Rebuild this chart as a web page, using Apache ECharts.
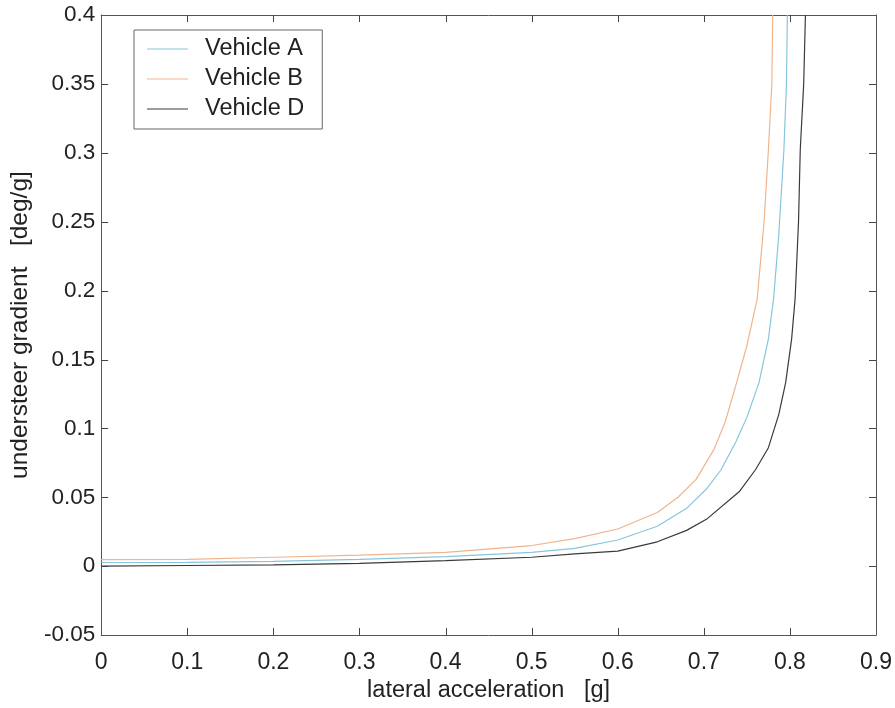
<!DOCTYPE html>
<html>
<head>
<meta charset="utf-8">
<script src="https://cdn.jsdelivr.net/npm/echarts@6/dist/echarts.min.js"></script>
<style>
  html, body { margin: 0; padding: 0; background: #fff; }
  #chart { width: 895px; height: 708px; }
</style>
</head>
<body>
<div id="chart"></div>
<script>
// understeer gradient vs lateral acceleration, three vehicles

const seriesNames = ["Vehicle A", "Vehicle B", "Vehicle D"];

// Vehicle A (blue)
const accelA = [0, 0.1, 0.2, 0.3, 0.4, 0.5, 0.55, 0.6, 0.646, 0.68, 0.703, 0.72, 0.737, 0.75, 0.764, 0.775, 0.781, 0.787, 0.793, 0.796, 0.797];
const gradA  = [0.0027, 0.0028, 0.0035, 0.005, 0.007, 0.010, 0.013, 0.019, 0.029, 0.042, 0.056, 0.070, 0.090, 0.108, 0.133, 0.165, 0.194, 0.24, 0.302, 0.35, 0.4];

// Vehicle B (orange)
const accelB = [0, 0.1, 0.2, 0.3, 0.4, 0.5, 0.55, 0.6, 0.646, 0.67, 0.691, 0.712, 0.725, 0.738, 0.75, 0.762, 0.77, 0.775, 0.779, 0.78];
const gradB  = [0.0047, 0.005, 0.0065, 0.008, 0.010, 0.015, 0.020, 0.027, 0.039, 0.05, 0.063, 0.085, 0.105, 0.133, 0.16, 0.194, 0.25, 0.302, 0.35, 0.4];

// Vehicle D (black)
const accelD = [0, 0.1, 0.2, 0.3, 0.4, 0.5, 0.55, 0.6, 0.646, 0.68, 0.703, 0.741, 0.76, 0.775, 0.787, 0.795, 0.802, 0.806, 0.81, 0.812, 0.816, 0.818];
const gradD  = [0.0, 0.0005, 0.001, 0.002, 0.004, 0.0065, 0.009, 0.011, 0.0177, 0.026, 0.034, 0.054, 0.07, 0.086, 0.11, 0.133, 0.165, 0.194, 0.25, 0.302, 0.35, 0.4];

// tick values (inward ticks on all four sides, MATLAB style)
const xTicks = [0.1, 0.2, 0.3, 0.4, 0.5, 0.6, 0.7, 0.8];
const yTicks = [0, 0.05, 0.1, 0.15, 0.2, 0.25, 0.3, 0.35];

const lineColors = ["#86c6dc", "#f0b48c", "#3a3a3a"];

const xMin = 0, xMax = 0.9, xStep = 0.1;
const yMin = -0.05, yMax = 0.4, yStep = 0.05;

const zip = (xs, ys) => xs.map((x, i) => [x, ys[i]]);

const FONT = "'Liberation Sans', Arial, sans-serif";
const AXIS_COLOR = "#555";
const TICK_LEN = 7;

function frameAxis(extra) {
  return Object.assign({
    type: "value",
    axisLine: { show: true, onZero: false, lineStyle: { color: AXIS_COLOR, width: 1 } },
    axisTick: { show: false },
    splitLine: { show: false }
  }, extra);
}

const crisp = (v) => Math.round(v) + 0.5;
const tickStyle = { stroke: "#444", lineWidth: 1 };

// ticks drawn from the axis scale: both ends of each tick value, pointing into the plot
function tickSeries(vertical) {
  return {
    type: "custom",
    silent: true,
    clip: false,
    z: 5,
    data: vertical ? xTicks.map((v) => [v, yMin]) : yTicks.map((v) => [xMin, v]),
    renderItem: (params, api) => {
      const v = vertical ? api.value(0) : api.value(1);
      const a = api.coord(vertical ? [v, yMin] : [xMin, v]);
      const b = api.coord(vertical ? [v, yMax] : [xMax, v]);
      const lines = vertical
        ? [[crisp(a[0]), a[1], crisp(a[0]), a[1] - TICK_LEN], [crisp(b[0]), b[1], crisp(b[0]), b[1] + TICK_LEN]]
        : [[a[0], crisp(a[1]), a[0] + TICK_LEN, crisp(a[1])], [b[0], crisp(b[1]), b[0] - TICK_LEN, crisp(b[1])]];
      return {
        type: "group",
        children: lines.map((l) => ({
          type: "line",
          shape: { x1: l[0], y1: l[1], x2: l[2], y2: l[3] },
          style: tickStyle
        }))
      };
    }
  };
}

const chart = echarts.init(document.getElementById("chart"), null, { renderer: "canvas" });

chart.setOption({
  backgroundColor: "#fff",
  animation: false,
  grid: { left: 97, right: 17, top: 15, bottom: 72 },
  legend: {
    data: seriesNames,
    orient: "vertical",
    left: 134,
    top: 30,
    padding: [7, 18, 8, 13],
    icon: "rect",
    itemWidth: 41,
    itemHeight: 1,
    itemGap: 6,
    borderColor: "#666",
    borderWidth: 1,
    borderRadius: 0,
    backgroundColor: "#fff",
    textStyle: { fontFamily: FONT, fontSize: 23.5, color: "#222", lineHeight: 23.5, padding: [0, 0, 0, 12] }
  },
  xAxis: [
    frameAxis({
      min: xMin, max: xMax, interval: xStep,
      name: "lateral acceleration   [g]",
      nameLocation: "middle",
      nameGap: 41,
      nameTextStyle: { fontFamily: FONT, fontSize: 23.5, color: "#222" },
      axisLabel: { fontFamily: FONT, fontSize: 23, color: "#222", margin: 16 }
    }),
    frameAxis({
      position: "top",
      min: xMin, max: xMax, interval: xStep,
      axisLabel: { show: false }
    })
  ],
  yAxis: [
    frameAxis({
      min: yMin, max: yMax, interval: yStep,
      name: "understeer gradient   [deg/g]",
      nameLocation: "middle",
      nameGap: 57,
      nameTextStyle: { fontFamily: FONT, fontSize: 24.5, color: "#222" },
      axisLabel: { fontFamily: FONT, fontSize: 22.5, color: "#222", margin: 6 }
    }),
    frameAxis({
      position: "right",
      min: yMin, max: yMax, interval: yStep,
      axisLabel: { show: false }
    })
  ],
  series: [
    { name: seriesNames[0], data: zip(accelA, gradA), color: lineColors[0] },
    { name: seriesNames[1], data: zip(accelB, gradB), color: lineColors[1] },
    { name: seriesNames[2], data: zip(accelD, gradD), color: lineColors[2] }
  ].map((s) => Object.assign({
    type: "line",
    symbol: "none",
    smooth: false,
    clip: true,
    lineStyle: { width: 1.2 }
  }, s)).concat([tickSeries(true), tickSeries(false)])
});
</script>
</body>
</html>
